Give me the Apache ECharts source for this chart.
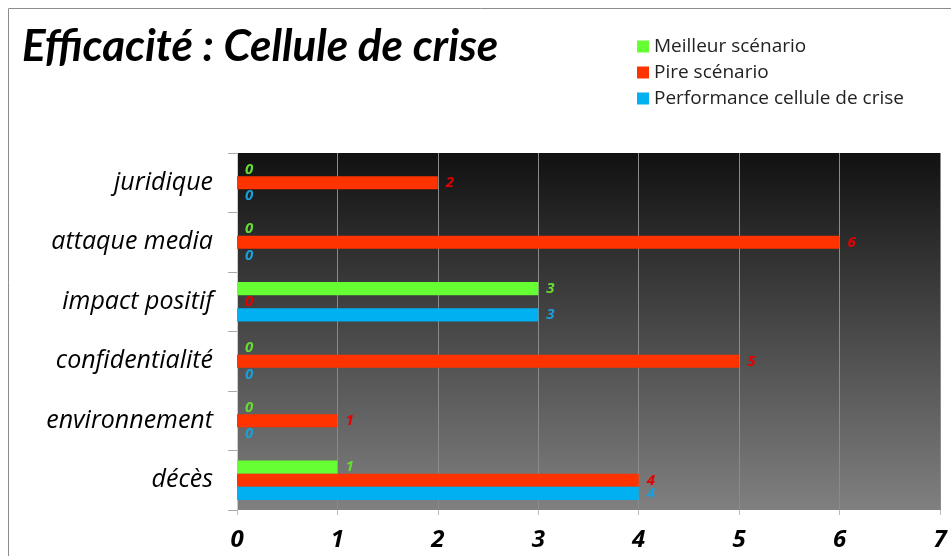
<!DOCTYPE html>
<html>
<head>
<meta charset="utf-8">
<script src="https://cdn.jsdelivr.net/npm/echarts@6/dist/echarts.min.js"></script>
<style>
  html, body { margin: 0; padding: 0; background: #fff; }
  #chart { width: 951px; height: 556px; }
</style>
</head>
<body>
<div id="chart"></div>
<script>
// categories, bottom to top as on the axis
const categories = ['décès', 'environnement', 'confidentialité', 'impact positif', 'attaque media', 'juridique']
const meilleur = [1, 0, 0, 3, 0, 0]
const pire = [4, 1, 5, 0, 6, 2]
const performance = [4, 0, 0, 3, 0, 0]
const xTicks = [0, 1, 2, 3, 4, 5, 6, 7]

const font = '"Open Sans", Lato, sans-serif'

function barSeries(name, data, color, labelColor) {
  return {
    name: name,
    type: 'bar',
    data: data,
    barGap: '0%',
    barCategoryGap: '34%',
    itemStyle: { color: color },
    label: {
      show: true,
      position: 'right',
      distance: 8,
      color: labelColor,
      fontFamily: font,
      fontStyle: 'italic',
      fontWeight: 'bold',
      fontSize: 15
    }
  }
}

const chart = echarts.init(document.getElementById('chart'))
chart.setOption({
  animation: false,
  title: {
    text: 'Efficacité : Cellule de crise',
    left: 17,
    top: 20,
    textStyle: { fontFamily: 'Lato, sans-serif', fontStyle: 'italic', fontWeight: 'bold', fontSize: 44, color: '#000' }
  },
  legend: {
    orient: 'vertical',
    left: 632,
    top: 32,
    itemWidth: 12,
    itemHeight: 12,
    itemGap: 7,
    icon: 'rect',
    textStyle: { fontFamily: font, fontSize: 19, color: '#222' },
    data: ['Meilleur scénario', 'Pire scénario', 'Performance cellule de crise']
  },
  graphic: [
    {
      type: 'rect',
      shape: { x: 8.5, y: 8.5, width: 1200, height: 1200 },
      style: { fill: 'none', stroke: '#8c8c8c', lineWidth: 1 },
      silent: true
    },
    {
      type: 'rect',
      z: -1,
      shape: { x: 237, y: 153, width: 703, height: 357 },
      style: {
        fill: new echarts.graphic.LinearGradient(0, 0, 0, 1, [
          { offset: 0, color: '#111111' },
          { offset: 1, color: '#808080' }
        ])
      },
      silent: true
    }
  ],
  grid: { left: 237, right: 11, top: 153, bottom: 46 },
  xAxis: {
    type: 'value',
    min: 0,
    max: 7,
    interval: 1,
    axisLine: { show: false },
    axisTick: { show: true, length: 5, lineStyle: { color: '#bbbbbb' } },
    splitLine: { show: true, lineStyle: { color: '#8a8a8a', width: 1 } },
    axisLabel: {
      margin: 18,
      fontFamily: font,
      fontStyle: 'italic',
      fontWeight: 'bold',
      fontSize: 24,
      color: '#000',
      formatter: function (v) { return xTicks.indexOf(v) >= 0 ? String(v) : '' }
    }
  },
  yAxis: {
    type: 'category',
    data: categories,
    axisLine: { show: true, lineStyle: { color: '#cccccc' } },
    axisTick: { show: true, length: 9, lineStyle: { color: '#aaaaaa' } },
    axisLabel: {
      margin: 24,
      fontFamily: font,
      fontStyle: 'italic',
      fontSize: 25,
      color: '#000'
    }
  },
  series: [
    barSeries('Meilleur scénario', meilleur, '#66ff33', '#66dd33'),
    barSeries('Pire scénario', pire, '#ff3300', '#e60000'),
    barSeries('Performance cellule de crise', performance, '#00b0f0', '#1a9fd9')
  ]
})
</script>
</body>
</html>
